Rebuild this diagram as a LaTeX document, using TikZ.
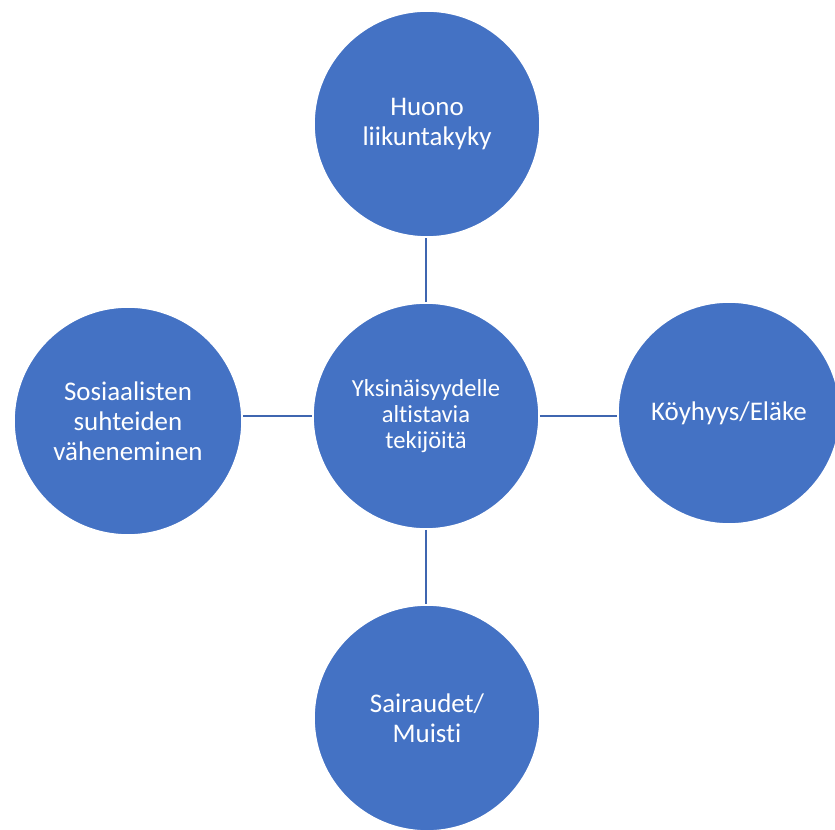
\documentclass[tikz,border=0pt]{standalone}
\usepackage{fontspec}
\setmainfont{Carlito}[Ligatures=NoCommon]
\definecolor{circfill}{HTML}{4472C4}
\definecolor{linkcol}{HTML}{3F66B0}
\begin{document}
\begin{tikzpicture}[x=0.75pt,y=-0.75pt,
  bubble/.style={circle,fill=circfill,draw=white,line width=1.2pt,inner sep=0pt,
    minimum size=#1*0.75pt,text=white,align=center,
    font=\fontsize{20.2pt}{22.5pt}\selectfont},
  hub/.style={bubble=#1,font=\fontsize{18.4pt}{19.8pt}\selectfont},
  link/.style={draw=linkcol,line width=1.5pt}]
\clip (0,0) rectangle (835,830);
\fill[white] (0,0) rectangle (835,830);
\node[hub=226] (c) at (426,416) {Yksinäisyydelle\\altistavia\\tekijöitä};
\node[bubble=226] (t) at (427,124) {Huono\\liikuntakyky};
\node[bubble=228] (l) at (128,421) {Sosiaalisten\\suhteiden\\väheneminen};
\node[bubble=222] (r) at (729,413) {Köyhyys/Eläke};
\node[bubble=226] (b) at (427,718) {Sairaudet/\\Muisti};
\draw[link] (c.north) -- (c.north |- t.south);
\draw[link] (c.south) -- (c.south |- b.north);
\draw[link] (c.west) -- (c.west -| l.east);
\draw[link] (c.east) -- (c.east -| r.west);
\end{tikzpicture}
\end{document}
